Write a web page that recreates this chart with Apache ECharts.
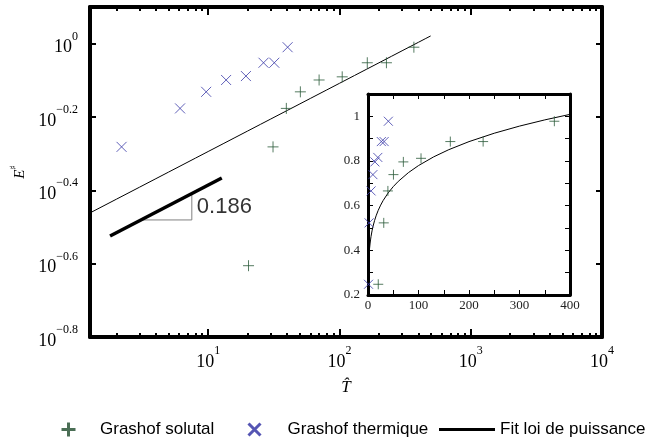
<!DOCTYPE html>
<html>
<head>
<meta charset="utf-8">
<script src="https://cdn.jsdelivr.net/npm/echarts@6/dist/echarts.min.js"></script>
<style>
  html, body { margin: 0; padding: 0; background: #fff; }
  #chart { width: 646px; height: 443px; }
</style>
</head>
<body>
<div id="chart"></div>
<script>
// Measured points: dimensionless time T̂ versus E♯
const solutalT = [20.3, 31.2, 39.4, 50.4, 70, 105, 163, 228, 369];
const solutalE = [0.248, 0.523, 0.666, 0.739, 0.796, 0.812, 0.887, 0.887, 0.978];
const thermiqueT = [1.0, 2.19, 6.11, 9.66, 13.7, 19.4, 26.4, 31.9, 40.3];
const thermiqueE = [0.248, 0.523, 0.666, 0.739, 0.796, 0.816, 0.887, 0.887, 0.978];

// Power-law fit E = fitCoef * T^fitExponent, sampled at these T values
const fitCoef = 0.331;
const fitExponent = 0.186;
const fitT = [1, 1.5, 2, 3, 4, 5, 6, 8, 10, 13, 16, 20, 25, 30, 40, 50, 60, 80, 100,
              130, 160, 200, 250, 300, 350, 400, 450, 495];

// Slope indicator: thick segment and its right-angle triangle
const slopeT = [1.79, 12.7];
const slopeStartE = 0.2988;
const triangleT = [3.08, 7.51];

// Axis ticks (main panel ticks are decade exponents / raw values)
const mainXMajorExp = [1, 2, 3, 4];
const mainXMinor = [2, 3, 4, 5, 6, 7, 8, 9, 20, 30, 40, 50, 60, 70, 80, 90,
                    200, 300, 400, 500, 600, 700, 800, 900, 2000, 3000, 4000, 5000,
                    6000, 7000, 8000, 9000];
const mainYExp = [-0.8, -0.6, -0.4, -0.2, 0];
const insetXLabels = [0, 100, 200, 300, 400];
const insetYLabels = [0.2, 0.4, 0.6, 0.8, 1];

const GREEN = '#2b5a3a';
const BLUE = '#3a3aa8';
const plusPath = 'path://M0,7H14M7,0V14';
const crossPath = 'path://M0,0L12,12M12,0L0,12';

// Main panel is drawn on log10 coordinates
const lg = v => Math.log10(v);
const mainXRange = [0.1, 4];
const mainYRange = [-0.8, 0.1];

const pair = (xs, ys) => xs.map((x, i) => [x, ys[i]]);
const toLog = pts => pts.map(p => [lg(p[0]), lg(p[1])]);
const fitData = fitT.map(t => [t, fitCoef * Math.pow(t, fitExponent)]);
const slopeAt = t => slopeStartE * Math.pow(t / slopeT[0], fitExponent);
const slopeData = slopeT.map(t => [t, slopeAt(t)]);
const triBase = slopeAt(triangleT[0]);
const triangleData = [[triangleT[0], triBase], [triangleT[1], triBase], [triangleT[1], slopeAt(triangleT[1])]];
const slopeLabelPoint = [triangleT[1], Math.sqrt(triBase * slopeAt(triangleT[1]))];

const serif = 'Liberation Serif';
const powRich = {
  b: { fontFamily: serif, fontSize: 18, color: '#000', verticalAlign: 'bottom', lineHeight: 26 },
  s: { fontFamily: serif, fontSize: 12, color: '#000', verticalAlign: 'top', lineHeight: 12 }
};
const fmtExp = e => (e < 0 ? '\u2212' + Math.abs(e) : String(e));

function mainX(position, major, withLabel) {
  const ax = {
    gridIndex: 0, type: 'value', min: mainXRange[0], max: mainXRange[1], position: position,
    axisLine: { show: major, onZero: false, lineStyle: { color: '#000', width: 4 } },
    axisTick: { show: true, inside: true, length: major ? 8 : 4,
                customValues: major ? mainXMajorExp : mainXMinor.map(lg),
                lineStyle: { color: '#000', width: 2 } },
    axisLabel: { show: false },
    splitLine: { show: false }
  };
  if (withLabel) {
    ax.axisLabel = {
      show: true, customValues: mainXMajorExp, margin: 8,
      formatter: v => '{b|10}{s|' + Math.round(v) + '}', rich: powRich
    };
    ax.name = 'T\u0302';
    ax.nameLocation = 'middle';
    ax.nameGap = 42;
    ax.nameTextStyle = { fontFamily: serif, fontStyle: 'italic', fontSize: 17, color: '#000' };
  }
  return ax;
}

function mainY(position, withLabel) {
  const ax = {
    gridIndex: 0, type: 'value', min: mainYRange[0], max: mainYRange[1], position: position,
    axisLine: { show: true, onZero: false, lineStyle: { color: '#000', width: 4 } },
    axisTick: { show: true, inside: true, length: 6, customValues: mainYExp,
                lineStyle: { color: '#000', width: 2 } },
    axisLabel: { show: false },
    splitLine: { show: false }
  };
  if (withLabel) {
    ax.axisLabel = {
      show: true, customValues: mainYExp, margin: 12,
      formatter: v => '{b|10}{s|' + fmtExp(Math.round(v * 10) / 10) + '}',
      rich: powRich
    };
    ax.name = '{e|E}{s|\u266F}';
    ax.nameLocation = 'middle';
    ax.nameGap = 62;
    ax.nameRotate = 90;
    ax.nameTextStyle = {
      rich: {
        e: { fontFamily: serif, fontStyle: 'italic', fontSize: 15, color: '#000', verticalAlign: 'bottom', lineHeight: 18 },
        s: { fontFamily: 'DejaVu Serif', fontSize: 9, color: '#000', verticalAlign: 'top', lineHeight: 10 }
      }
    };
  }
  return ax;
}

function insetX(position, withLabel) {
  return {
    gridIndex: 1, type: 'value', min: 0, max: 400, interval: 50, position: position, z: 6,
    axisLine: { show: true, onZero: false, lineStyle: { color: '#000', width: 3 } },
    axisTick: { show: true, inside: true, length: 5, lineStyle: { color: '#000', width: 1 } },
    axisLabel: withLabel
      ? { show: true, customValues: insetXLabels, margin: 4, fontFamily: serif, fontSize: 13, color: '#222' }
      : { show: false },
    splitLine: { show: false }
  };
}

function insetY(position, withLabel) {
  return {
    gridIndex: 1, type: 'value', min: 0.2, max: 1.1, interval: 0.1, position: position, z: 6,
    axisLine: { show: true, onZero: false, lineStyle: { color: '#000', width: 3 } },
    axisTick: { show: true, inside: true, length: 5, lineStyle: { color: '#000', width: 1 } },
    axisLabel: withLabel
      ? { show: true, customValues: insetYLabels, margin: 8, fontFamily: serif, fontSize: 13, color: '#222',
          formatter: v => String(Math.round(v * 10) / 10) }
      : { show: false },
    splitLine: { show: false }
  };
}

const markerSeries = (name, data, path, color, size, xi, yi, z) => ({
  name: name, type: 'scatter', xAxisIndex: xi, yAxisIndex: yi, data: data, clip: true,
  symbol: path, symbolSize: size,
  itemStyle: { color: 'transparent', borderColor: color, borderWidth: 1 },
  emphasis: { disabled: true }, z: z
});

const legendText = { fontFamily: 'Liberation Sans', fontSize: 17, color: '#000' };

const option = {
  animation: false,
  backgroundColor: '#fff',
  grid: [
    { left: 90, top: 7, width: 512, height: 330, containLabel: false },
    { left: 368, top: 94, width: 202, height: 201, containLabel: false,
      show: true, backgroundColor: '#fff', borderWidth: 0, z: 5 }
  ],
  xAxis: [
    mainX('bottom', true, true), mainX('bottom', false, false),
    mainX('top', true, false), mainX('top', false, false),
    insetX('bottom', true), insetX('top', false)
  ],
  yAxis: [
    mainY('left', true), mainY('right', false),
    insetY('left', true), insetY('right', false)
  ],
  legend: [
    { data: [{ name: 'Grashof solutal', icon: plusPath }], left: 60, top: 421, padding: 0,
      itemWidth: 53, itemHeight: 14, selectedMode: false, textStyle: legendText,
      itemStyle: { color: 'transparent', borderColor: '#1d4a2a', borderWidth: 3 } },
    { data: [{ name: 'Grashof thermique', icon: crossPath }], left: 247, top: 421, padding: 0,
      itemWidth: 56, itemHeight: 12, selectedMode: false, textStyle: legendText,
      itemStyle: { color: 'transparent', borderColor: '#2a2aa0', borderWidth: 3 } },
    { data: [{ name: 'Fit loi de puissance', icon: 'rect' }], left: 439, top: 421, padding: 0,
      itemWidth: 56, itemHeight: 3, selectedMode: false, textStyle: legendText,
      itemStyle: { color: '#000', borderWidth: 0 } }
  ],
  series: [
    // main log-log panel
    { name: 'Fit loi de puissance', type: 'line', xAxisIndex: 0, yAxisIndex: 0, data: toLog(fitData),
      showSymbol: false, symbol: 'none', clip: true, itemStyle: { color: '#000' },
      lineStyle: { color: '#000', width: 1 }, z: 3 },
    markerSeries('Grashof solutal', toLog(pair(solutalT, solutalE)), plusPath, GREEN, 11, 0, 0, 4),
    markerSeries('Grashof thermique', toLog(pair(thermiqueT, thermiqueE)), crossPath, BLUE, 10, 0, 0, 4),
    { name: 'pente', type: 'line', xAxisIndex: 0, yAxisIndex: 0, data: toLog(slopeData),
      showSymbol: false, symbol: 'none', lineStyle: { color: '#000', width: 3.5 }, z: 3 },
    { name: 'triangle', type: 'line', xAxisIndex: 0, yAxisIndex: 0, data: toLog(triangleData),
      showSymbol: false, symbol: 'none', lineStyle: { color: '#808080', width: 1 }, z: 2 },
    { name: 'exposant', type: 'scatter', xAxisIndex: 0, yAxisIndex: 0, data: toLog([slopeLabelPoint]),
      symbolSize: 0, silent: true,
      label: { show: true, position: 'right', distance: 5, formatter: () => fitExponent.toFixed(3),
               fontFamily: 'Liberation Sans', fontSize: 22, color: '#000' } },
    // linear inset
    { name: 'Fit loi de puissance', type: 'line', xAxisIndex: 4, yAxisIndex: 2, data: fitData,
      showSymbol: false, symbol: 'none', clip: true, itemStyle: { color: '#000' },
      lineStyle: { color: '#000', width: 1 }, z: 7 },
    markerSeries('Grashof solutal', pair(solutalT, solutalE), plusPath, GREEN, 10, 4, 2, 8),
    markerSeries('Grashof thermique', pair(thermiqueT, thermiqueE), crossPath, BLUE, 9, 4, 2, 8)
  ]
};

const chart = echarts.init(document.getElementById('chart'), null, { renderer: 'canvas' });
chart.setOption(option);
</script>
</body>
</html>
